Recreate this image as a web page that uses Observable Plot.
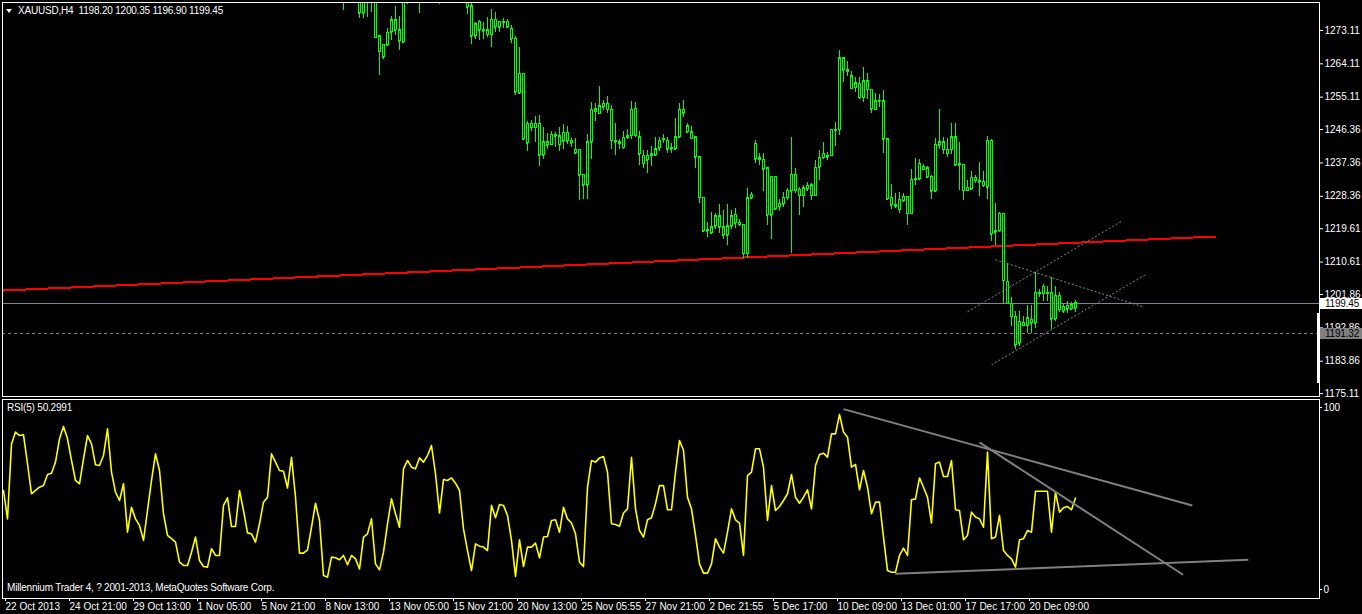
<!DOCTYPE html>
<html><head><meta charset="utf-8">
<script src="https://cdn.jsdelivr.net/npm/d3@7"></script>
<script src="https://cdn.jsdelivr.net/npm/@observablehq/plot@0.6"></script>
<style>
html,body{margin:0;padding:0;background:#000;}
#wrap{position:relative;width:1362px;height:614px;background:#000;overflow:hidden;font-family:"Liberation Sans",Arial,sans-serif;color:#fff;}
#wrap svg{position:absolute;left:0;}
.lbl{position:absolute;font-size:10px;white-space:pre;line-height:12px;color:#fff;letter-spacing:-0.2px;}
.pbox{position:absolute;left:1320px;width:42px;height:11px;font-size:10px;line-height:11px;padding-left:5px;box-sizing:border-box;color:#000;letter-spacing:-0.2px;}
</style></head><body><div id="wrap"></div>
<script>
// ---- header / info ----
const symbolTitle = "XAUUSD,H4";
const headerOHLC = ["1198.20", "1200.35", "1196.90", "1199.45"];
const rsiTitle = "RSI(5) 50.2991";
const footerText = "Millennium Trader 4, ? 2001-2013, MetaQuotes Software Corp.";

// ---- price axis ----
const priceTicks = [1273.11, 1264.11, 1255.11, 1246.36, 1237.36, 1228.36, 1219.61, 1210.61, 1201.86, 1192.86, 1183.86, 1175.11];
const bidPrice = 1199.45;
const levelPrice = 1191.32;

// ---- time axis (bar index -> label) ----
const timeTickBars = [0, 16, 32, 48, 64, 80, 96, 112, 128, 144, 160, 176, 192, 208, 224, 240, 256];
const timeTickLabels = ["22 Oct 2013", "24 Oct 21:00", "29 Oct 13:00", "1 Nov 05:00", "5 Nov 21:00", "8 Nov 13:00", "13 Nov 05:00", "15 Nov 21:00", "20 Nov 13:00", "25 Nov 05:55", "27 Nov 21:00", "2 Dec 21:55", "5 Dec 17:00", "10 Dec 09:00", "13 Dec 01:00", "17 Dec 17:00", "20 Dec 09:00"];

// ---- H4 candles (bars 85..268; earlier bars lie above the visible price range) ----
const firstBar = 85;
const open = [1284.5,1283.0,1282.4,1283.2,1282.9,1277.8,1284.5,1285.0,1286.5,1271.5,
1265.9,1269.1,1272.6,1275.9,1273.1,1269.9,1283.5,1285.0,1284.2,1284.0,
1286.0,1285.5,1287.0,1289.0,1286.0,1282.0,1285.5,1285.5,1285.8,1285.0,
1284.0,1282.2,1279.6,1271.5,1275.5,1272.9,1273.1,1272.0,1276.0,1274.0,
1275.4,1275.4,1273.6,1270.9,1256.2,1261.4,1242.7,1248.0,1246.8,1248.0,
1239.5,1243.0,1242.3,1245.0,1244.6,1243.2,1245.5,1243.4,1240.9,1240.9,
1234.2,1231.3,1243.0,1251.9,1250.6,1252.4,1253.3,1251.7,1243.4,1242.9,
1241.4,1244.1,1244.7,1252.0,1244.3,1239.3,1238.1,1239.3,1239.5,1241.3,
1243.6,1243.4,1241.1,1241.1,1244.3,1251.7,1247.2,1245.7,1244.3,1238.9,
1228.0,1218.9,1220.0,1220.3,1223.0,1220.0,1217.9,1220.3,1223.4,1221.2,
1220.7,1212.9,1227.8,1238.4,1238.6,1238.2,1235.9,1223.2,1233.7,1225.6,
1226.2,1228.0,1229.7,1234.2,1230.1,1228.5,1230.3,1231.3,1228.5,1236.2,
1238.8,1239.3,1239.3,1246.3,1246.3,1265.6,1262.4,1260.8,1257.6,1258.7,
1254.9,1259.4,1257.1,1251.7,1254.0,1254.0,1243.8,1228.0,1226.0,1224.7,
1227.2,1228.3,1223.6,1232.8,1233.0,1236.3,1235.9,1233.7,1229.7,1242.2,
1243.0,1240.9,1240.9,1244.3,1236.8,1236.9,1229.8,1230.3,1233.3,1232.6,
1232.3,1230.8,1243.4,1218.6,1219.0,1223.6,1205.3,1199.4,1195.8,1188.7,
1194.3,1193.4,1195.0,1194.1,1202.4,1202.0,1202.4,1202.4,1195.2,1201.5,
1197.4,1198.8,1197.9,1198.20];
const high = [1286.0,1285.5,1285.0,1284.0,1283.5,1285.5,1286.0,1287.5,1287.0,1271.5,
1269.3,1273.6,1276.9,1279.6,1276.9,1285.0,1287.0,1286.5,1285.5,1287.5,
1287.0,1288.0,1290.0,1289.5,1286.5,1286.5,1286.5,1287.0,1286.5,1285.5,
1284.5,1283.0,1280.3,1275.3,1275.7,1275.3,1276.6,1278.7,1278.0,1275.4,
1276.2,1276.0,1274.5,1271.5,1268.6,1261.6,1248.6,1248.9,1249.8,1250.1,
1247.0,1245.2,1245.9,1245.7,1247.0,1247.7,1247.3,1243.9,1243.9,1240.9,
1234.2,1245.0,1253.7,1253.5,1258.0,1254.2,1255.3,1252.8,1247.9,1243.8,
1245.9,1246.3,1253.9,1253.7,1245.9,1240.7,1240.7,1241.8,1244.3,1244.1,
1245.0,1244.3,1242.5,1249.3,1253.3,1254.2,1247.9,1247.3,1244.5,1238.9,
1228.0,1221.2,1223.9,1223.6,1226.2,1224.6,1226.2,1224.6,1225.0,1222.1,
1220.7,1230.5,1229.4,1243.4,1239.8,1240.0,1235.9,1233.7,1233.7,1227.6,
1229.4,1230.5,1244.1,1235.8,1230.6,1231.3,1232.1,1231.7,1238.0,1240.7,
1243.0,1240.2,1246.3,1248.2,1267.7,1265.6,1264.6,1261.9,1260.5,1260.5,
1263.2,1261.4,1257.1,1256.0,1255.8,1256.9,1243.8,1231.5,1229.0,1229.4,
1229.0,1228.3,1235.5,1238.6,1238.4,1237.0,1236.4,1233.9,1243.9,1251.9,
1244.1,1243.9,1247.9,1247.9,1243.0,1236.9,1232.6,1235.1,1233.9,1237.5,
1235.0,1244.5,1243.6,1226.5,1224.0,1223.8,1210.1,1201.1,1197.4,1197.2,
1195.8,1199.0,1199.0,1207.8,1203.3,1204.6,1204.0,1206.4,1204.0,1202.4,
1199.2,1199.9,1199.7,1200.35];
const low = [1278.5,1282.0,1281.9,1281.8,1276.2,1276.2,1276.7,1278.0,1271.1,1260.9,
1265.4,1268.8,1270.4,1271.7,1267.7,1269.7,1280.1,1282.5,1282.0,1277.8,
1283.5,1284.5,1286.0,1285.0,1280.0,1281.8,1284.0,1284.5,1284.0,1283.0,
1281.8,1277.3,1269.3,1270.6,1270.4,1270.6,1271.3,1268.6,1272.5,1272.5,
1273.6,1273.6,1269.7,1255.6,1256.0,1243.7,1240.5,1245.9,1243.0,1236.4,
1238.4,1240.9,1242.2,1241.6,1240.5,1240.9,1242.3,1241.6,1239.6,1227.2,
1227.6,1227.6,1238.4,1248.5,1250.6,1251.5,1250.8,1241.1,1239.5,1240.9,
1241.1,1243.8,1243.6,1244.1,1236.8,1235.9,1234.5,1236.3,1239.3,1240.4,
1242.5,1240.0,1240.0,1240.7,1244.3,1249.5,1245.2,1243.8,1235.9,1226.5,
1218.9,1217.3,1218.2,1219.5,1218.2,1216.8,1215.2,1219.5,1219.8,1220.3,
1211.6,1211.6,1227.6,1237.3,1236.8,1229.7,1220.5,1216.8,1224.9,1224.2,
1225.3,1227.1,1212.8,1229.0,1223.2,1225.3,1229.7,1227.1,1228.5,1232.6,
1238.4,1237.9,1239.3,1241.8,1244.8,1259.1,1260.7,1257.3,1256.4,1254.6,
1253.7,1254.6,1250.8,1251.5,1252.4,1240.0,1227.6,1224.7,1225.1,1223.7,
1226.7,1220.5,1223.6,1231.2,1232.8,1235.2,1233.5,1227.6,1229.7,1241.1,
1239.7,1238.9,1239.7,1236.8,1229.9,1227.1,1229.6,1229.9,1231.9,1228.3,
1230.7,1227.4,1216.1,1215.0,1218.6,1199.4,1199.4,1193.1,1187.1,1187.7,
1193.4,1191.4,1191.3,1192.7,1201.0,1200.1,1199.9,1192.5,1194.7,1197.0,
1196.7,1196.7,1197.7,1196.90];
const close = [1283.0,1282.4,1283.2,1282.9,1277.8,1284.5,1285.0,1286.5,1271.1,1267.3,
1269.3,1272.5,1275.9,1273.1,1270.2,1283.5,1285.0,1284.2,1284.0,1286.0,
1285.5,1287.0,1289.0,1286.0,1282.0,1285.5,1285.5,1285.8,1285.0,1284.0,
1282.2,1279.4,1271.5,1274.8,1273.1,1273.3,1272.0,1276.0,1274.0,1275.4,
1275.2,1274.0,1270.7,1256.4,1261.4,1243.8,1248.0,1246.8,1248.0,1239.5,
1243.0,1242.2,1245.0,1244.6,1242.3,1245.5,1243.2,1242.7,1240.0,1234.0,
1231.3,1243.0,1251.7,1251.2,1252.6,1253.3,1251.7,1243.4,1243.0,1242.5,
1244.1,1244.5,1251.7,1244.7,1239.7,1237.2,1239.3,1239.7,1241.1,1243.4,
1243.8,1241.1,1241.3,1244.3,1251.7,1250.7,1245.7,1243.9,1238.9,1228.0,
1218.9,1219.3,1218.4,1223.0,1220.0,1217.9,1220.3,1223.0,1221.1,1220.7,
1212.9,1227.8,1228.8,1242.5,1238.2,1235.7,1223.2,1233.7,1224.9,1226.3,
1228.0,1229.9,1234.2,1229.9,1228.5,1230.5,1231.2,1228.5,1236.0,1238.8,
1239.8,1238.9,1246.3,1246.1,1265.6,1262.4,1261.9,1257.4,1258.9,1254.9,
1259.4,1257.1,1251.9,1254.0,1254.2,1243.8,1227.6,1226.0,1225.5,1227.4,
1228.3,1223.6,1232.8,1233.1,1237.2,1235.5,1233.5,1229.7,1242.3,1243.0,
1240.9,1239.8,1244.3,1236.8,1237.2,1229.8,1230.7,1233.3,1232.5,1232.1,
1231.2,1243.4,1218.1,1219.1,1223.6,1205.6,1199.4,1195.8,1188.2,1194.5,
1193.4,1195.4,1194.1,1202.4,1202.0,1204.0,1202.0,1195.2,1201.5,1197.7,
1198.5,1197.9,1199.0,1199.45];

// ---- RSI(5), bars 0..268 ----
const rsi = [54.4,38.8,80.0,86.5,84.6,85.0,69.1,52.6,54.4,56.2,
57.1,63.2,63.9,70.0,82.8,89.6,82.8,70.9,59.9,58.1,
71.8,84.6,80.0,68.5,68.1,73.6,88.3,64.5,53.5,48.9,
58.1,31.5,45.2,38.8,35.2,27.0,43.4,59.9,74.5,65.4,
41.6,29.7,27.9,26.0,15.0,13.2,13.2,20.5,28.8,15.9,
12.6,12.3,22.4,18.7,18.7,46.2,50.4,34.6,34.6,54.4,
43.4,31.1,30.6,26.0,36.1,48.0,50.7,74.5,70.0,65.4,
65.0,55.8,72.7,50.7,20.0,20.0,21.8,34.2,47.4,37.9,
7.7,6.8,17.8,17.4,16.3,18.7,13.6,18.7,16.8,11.3,
28.8,30.6,38.8,14.1,10.8,20.5,36.1,49.8,41.6,34.2,
66.3,70.9,67.2,66.3,72.3,70.0,73.6,79.1,63.6,42.0,
60.4,59.9,61.3,58.4,54.4,33.3,21.4,10.4,25.1,23.8,
23.3,21.4,46.2,39.4,46.7,46.2,40.7,27.0,7.2,27.3,
12.6,23.3,23.3,25.5,17.4,28.8,29.1,37.9,38.3,31.5,
45.2,38.8,36.5,30.6,15.0,12.6,56.2,70.9,70.0,72.3,
73.1,64.5,36.1,35.7,34.8,42.0,44.3,72.7,44.3,32.4,
28.8,38.3,39.4,47.1,57.1,57.1,43.8,43.8,64.5,81.9,
76.4,50.7,44.3,29.7,14.1,9.0,9.0,14.1,27.9,23.3,
20.0,31.5,44.3,38.3,36.5,18.7,62.6,64.5,77.3,77.3,
67.2,37.9,57.1,43.4,45.6,48.9,52.6,63.2,50.7,47.4,
50.7,54.8,44.3,68.1,74.2,74.9,72.7,85.5,85.5,96.2,
86.5,83.7,67.2,68.7,54.8,65.4,56.2,41.6,48.0,48.0,
28.8,10.4,9.5,9.5,18.7,22.7,18.7,49.3,49.8,61.3,
56.2,50.7,36.5,69.1,70.0,62.1,62.1,70.9,43.8,43.4,
27.3,29.7,42.5,39.8,38.8,34.2,75.5,27.9,28.8,40.7,
21.4,18.7,16.8,12.3,27.3,27.9,32.4,31.5,54.0,54.0,
54.0,54.0,31.5,53.5,42.5,44.9,45.6,43.8,50.3];

// ---- drawn objects (bar index, value) ----
const redTrend = [{i: 0, p: 1202.94}, {i: 303, p: 1217.51}];
const channelLines = [
  {i1: 241.0, p1: 1197.19, i2: 279.85, p2: 1221.83},
  {i1: 247.0, p1: 1182.89, i2: 285.85, p2: 1207.44},
  {i1: 248.0, p1: 1211.22, i2: 284.85, p2: 1198.54}
];
const rsiTrendLines = [
  {i1: 210.0, v1: 99.1, i2: 297.2, v2: 46.2},
  {i1: 244.0, v1: 80.8, i2: 294.9, v2: 8.1},
  {i1: 223.0, v1: 8.6, i2: 311.2, v2: 16.4}
];

// ---- build tables ----
const candles = open.map((o, k) => ({i: firstBar + k, open: o, high: high[k], low: low[k], close: close[k]}));
const rsiData = rsi.map((v, i) => ({i, v}));
const timeTicks = timeTickBars.map((b, k) => ({i: b, label: timeTickLabels[k]}));

const xDomain = [-0.25, 329];
const green = "#00ff00";
const crisp = "crispEdges";
const font = {background: "transparent", color: "#fff", fontFamily: "'Liberation Sans', Arial, sans-serif", fontSize: "10px"};

const mainChart = Plot.plot({
  width: 1362, height: 398,
  marginTop: 2, marginBottom: 2, marginLeft: 2, marginRight: 43,
  style: font,
  x: {domain: xDomain, axis: null},
  y: {domain: [1174.34, 1280.65], axis: null},
  marks: [
    Plot.ruleY([bidPrice], {stroke: "#778899", clip: true, shapeRendering: crisp}),
    Plot.ruleY([levelPrice], {stroke: "#808080", strokeDasharray: "3,3", clip: true, shapeRendering: crisp}),
    Plot.line(redTrend, {x: "i", y: "p", stroke: "#ff0000", strokeWidth: 2, clip: true, shapeRendering: crisp}),
    Plot.link(channelLines, {x1: "i1", y1: "p1", x2: "i2", y2: "p2", stroke: "#8a8a8a", strokeDasharray: "2,2", clip: true}),
    Plot.ruleX(candles, {x: "i", y1: "low", y2: "high", stroke: green, clip: true, shapeRendering: crisp}),
    Plot.rect(candles, {x1: d => d.i - 0.25, x2: d => d.i + 0.25, y1: "open", y2: "close", fill: "#000", stroke: green, clip: true, shapeRendering: crisp}),
    Plot.ruleY(candles, {y: "open", x1: d => d.i - 0.25, x2: d => d.i + 0.25, stroke: green, clip: true, shapeRendering: crisp}),
    Plot.ruleY(candles, {y: "close", x1: d => d.i - 0.25, x2: d => d.i + 0.25, stroke: green, clip: true, shapeRendering: crisp}),
    Plot.frame({stroke: "#fff", shapeRendering: crisp}),
    Plot.axisY(priceTicks, {anchor: "right", tickFormat: d => d.toFixed(2), tickSize: 3, tickPadding: 2, stroke: "#fff", fill: "#fff", label: null})
  ]
});
mainChart.style.top = "0px";

const rsiChart = Plot.plot({
  width: 1362, height: 216,
  marginTop: 1, marginBottom: 16, marginLeft: 2, marginRight: 43,
  style: font,
  x: {domain: xDomain, axis: null},
  y: {domain: [-4.95, 104.4], axis: null},
  marks: [
    Plot.line(rsiData, {x: "i", y: "v", stroke: "#ffff00", strokeWidth: 1.6, clip: true}),
    Plot.link(rsiTrendLines, {x1: "i1", y1: "v1", x2: "i2", y2: "v2", stroke: "#808080", strokeWidth: 2, clip: true}),
    Plot.frame({stroke: "#fff", shapeRendering: crisp}),
    Plot.axisY([0, 100], {anchor: "right", tickSize: 2, tickPadding: 2, fill: "#fff", stroke: "#fff", label: null}),
    Plot.axisX(timeTicks.map(d => d.i), {anchor: "bottom", tickSize: 3, tickPadding: 1, tickFormat: i => timeTickLabels[timeTickBars.indexOf(i)], textAnchor: "start", dx: 2, fill: "#fff", stroke: "#fff", label: null})
  ]
});
rsiChart.style.top = "398px";

const wrap = document.getElementById("wrap");
wrap.appendChild(mainChart);
wrap.appendChild(rsiChart);

function addDiv(cls, css, text) {
  const d = document.createElement("div");
  if (cls) d.className = cls;
  d.style.cssText = css;
  if (text != null) d.textContent = text;
  wrap.appendChild(d);
  return d;
}
// header
addDiv(null, "position:absolute;left:6px;top:9px;width:0;height:0;border-left:3px solid transparent;border-right:3px solid transparent;border-top:4px solid #fff;");
addDiv("lbl", "left:18px;top:5px;", symbolTitle + "  " + headerOHLC.join(" "));
addDiv("lbl", "left:7px;top:402px;", rsiTitle);
addDiv("lbl", "left:7px;top:582px;", footerText);
// price markers on scale
const ys = mainChart.scale("y");
const yBid = ys.apply(bidPrice);
const yLvl = ys.apply(levelPrice);
addDiv("pbox", `top:${yBid - 5}px;background:#fff;`, bidPrice.toFixed(2));
addDiv("pbox", `top:${yLvl - 5}px;background:#808080;`, levelPrice.toFixed(2));
addDiv(null, "position:absolute;left:1317px;top:313px;width:3px;height:70px;background:#fff;");
</script></body></html>
